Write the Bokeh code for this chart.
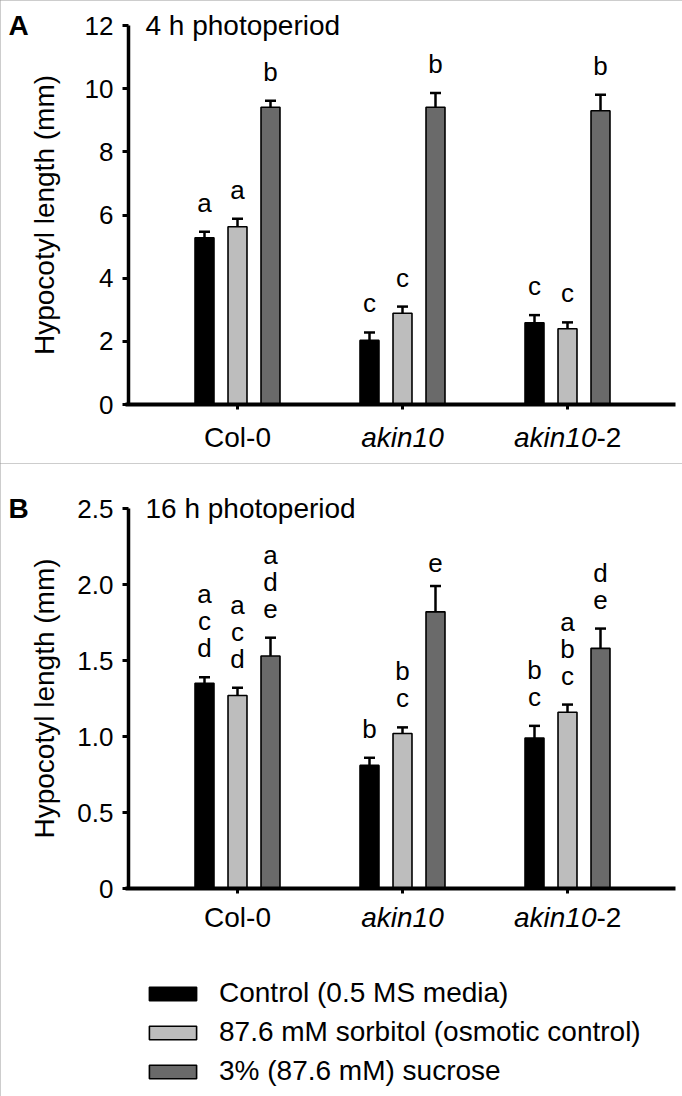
from bokeh.plotting import figure
from bokeh.models import Range1d, FixedTicker, ColumnDataSource, Whisker, TeeHead
from bokeh.layouts import column
from bokeh.embed import file_html
from bokeh.resources import INLINE
from bokeh.core.properties import value

# ---------------- data ----------------
genotypes = ["Col-0", "akin10", "akin10-2"]
treatments = ["Control (0.5 MS media)",
              "87.6 mM sorbitol (osmotic control)",
              "3% (87.6 mM) sucrose"]
colors = ["#000000", "#bdbdbd", "#6a6a6a"]

# Panel A: 4 h photoperiod
a_ctrl = [5.28, 2.03, 2.59]
a_ctrl_err = [0.19, 0.25, 0.24]
a_sorb = [5.63, 2.89, 2.40]
a_sorb_err = [0.25, 0.21, 0.20]
a_suc = [9.41, 9.41, 9.30]
a_suc_err = [0.21, 0.45, 0.51]
a_letters_ctrl = ["a", "c", "c"]
a_letters_sorb = ["a", "c", "c"]
a_letters_suc = ["b", "b", "b"]
a_yticks = [0, 2, 4, 6, 8, 10, 12]

# Panel B: 16 h photoperiod
b_ctrl = [1.35, 0.81, 0.99]
b_ctrl_err = [0.04, 0.05, 0.08]
b_sorb = [1.27, 1.02, 1.16]
b_sorb_err = [0.05, 0.04, 0.05]
b_suc = [1.53, 1.82, 1.58]
b_suc_err = [0.12, 0.17, 0.13]
b_letters_ctrl = ["a\nc\nd", "b", "b\nc"]
b_letters_sorb = ["a\nc\nd", "b\nc", "a\nb\nc"]
b_letters_suc = ["a\nd\ne", "e", "d\ne"]
b_yticks = [0, 0.5, 1.0, 1.5, 2.0, 2.5]
b_ytick_labels = {0: "0", 0.5: "0.5", 1: "1.0", 1.5: "1.5", 2: "2.0", 2.5: "2.5"}

group_pos = [0, 1, 2]
treat_offset = [-0.2, 0.0, 0.2]

# ---------------- layout (pixels) ----------------
W = 682
PX_PER_GROUP = 165.0
FIRST_GROUP_PX = 237.0
AXIS_PX = 128.0
AXIS_END_PX = 675.0
X_START = -FIRST_GROUP_PX / PX_PER_GROUP
X_END = (W - FIRST_GROUP_PX) / PX_PER_GROUP
Y_AXIS_X = (AXIS_PX - FIRST_GROUP_PX) / PX_PER_GROUP
X_AXIS_LEFT = (AXIS_PX - 3 - FIRST_GROUP_PX) / PX_PER_GROUP
X_AXIS_RIGHT = (AXIS_END_PX - FIRST_GROUP_PX) / PX_PER_GROUP

FONT = "Liberation Sans"
FS = "28px"
TICK_FS = "26px"
BORDER = {"outline": "1px solid #9a9a9a", "outline-offset": "-1px"}


def make_panel(height, zero_px, top_px, y_max, yticks, ytick_over, title, letter,
               series, letters, axis_standoff, legend=False, cat_gap=33, line_h=0.9):
    ppu = (zero_px - top_px) / y_max
    y_start = -(height - zero_px) / ppu
    y_end = y_max + top_px / ppu
    p = figure(width=W, height=height, x_range=Range1d(X_START, X_END),
               y_range=Range1d(y_start, y_end),
               output_backend="svg", toolbar_location=None,
               min_border_left=0, min_border_right=0, min_border_top=0, min_border_bottom=0,
               outline_line_color=None, styles=BORDER)
    p.title.visible = False
    p.xgrid.visible = False
    p.ygrid.visible = False

    for k, (vals, errs) in enumerate(series):
        xs = [g + treat_offset[k] for g in group_pos]
        src = ColumnDataSource(dict(x=xs, top=vals, upper=[v + e for v, e in zip(vals, errs)],
                                    lab=letters[k]))
        kw = {}
        if legend:
            kw["legend_label"] = treatments[k]
        p.vbar(x="x", top="top", width=0.115, bottom=0, source=src,
               fill_color=colors[k], line_color="black", line_width=1.6, **kw)
        w = Whisker(base="x", lower="top", upper="upper", source=src, dimension="height",
                    line_color="black", line_width=2.5, lower_head=None,
                    upper_head=TeeHead(size=11, line_width=2.5, line_color="black"))
        p.add_layout(w)
        p.text(x="x", y="upper", text="lab", source=src, text_font=value(FONT),
               text_font_size="26px", text_align="center", text_baseline="bottom",
               y_offset=-14, text_line_height=line_h, text_color="black")

    # y axis (library axis drawn at a fixed location)
    ya = p.yaxis[0]
    ya.fixed_location = Y_AXIS_X
    ya.bounds = (0, y_max)
    ya.ticker = FixedTicker(ticks=yticks)
    ya.minor_tick_line_color = None
    ya.axis_line_width = 3.5
    ya.major_tick_line_width = 3
    ya.major_tick_out = 6
    ya.major_tick_in = 0
    ya.major_label_standoff = 9
    ya.major_label_text_font = FONT
    ya.major_label_text_font_size = TICK_FS
    ya.major_label_text_color = "black"
    if ytick_over:
        ya.major_label_overrides = ytick_over
    ya.axis_label = "Hypocotyl length (mm)"
    ya.axis_label_text_font = FONT
    ya.axis_label_text_font_size = FS
    ya.axis_label_text_font_style = "normal"
    ya.axis_label_text_color = "black"
    ya.axis_label_standoff = axis_standoff

    # x axis at y = 0
    xa = p.xaxis[0]
    xa.fixed_location = 0
    xa.bounds = (X_AXIS_LEFT, X_AXIS_RIGHT)
    xa.ticker = FixedTicker(ticks=group_pos)
    xa.minor_tick_line_color = None
    xa.axis_line_width = 4
    xa.major_tick_line_width = 3
    xa.major_tick_out = 5
    xa.major_tick_in = 0
    xa.major_label_text_color = None

    # category labels (Col-0 upright, akin10 italic, akin10-2 mixed)
    base = dict(y_offset=cat_gap, text_baseline="middle", text_font=value(FONT),
                text_font_size=FS, text_color="black")
    p.text(x=[group_pos[0]], y=[0], text=[genotypes[0]], text_align="center", **base)
    p.text(x=[group_pos[1]], y=[0], text=[genotypes[1]], text_align="center",
           text_font_style="italic", **base)
    p.text(x=[group_pos[2]], y=[0], text=[genotypes[2][:-2]], text_align="right",
           x_offset=29, text_font_style="italic", **base)
    p.text(x=[group_pos[2]], y=[0], text=[genotypes[2][-2:]], text_align="left",
           x_offset=29, **base)

    # title & panel letter
    p.text(x=[Y_AXIS_X], y=[y_max], text=[title], x_offset=17, text_align="left",
           text_baseline="middle", text_font=value(FONT), text_font_size=FS, text_color="black")
    p.text(x=[X_START], y=[y_max], text=[letter], x_offset=8, text_align="left",
           text_baseline="middle", text_font=value(FONT), text_font_size="28px",
           text_font_style="bold", text_color="black")

    if legend:
        lg = p.legend[0]
        lg.location = (143, 9)
        lg.border_line_color = None
        lg.background_fill_alpha = 0
        lg.padding = 0
        lg.margin = 0
        lg.spacing = 7
        lg.glyph_width = 59
        lg.glyph_height = 17
        lg.label_standoff = 17
        lg.label_text_font = FONT
        lg.label_text_font_size = FS
        lg.label_text_color = "black"
    return p


pA = make_panel(463, 404, 25, 12, a_yticks, None, "4 h photoperiod", "A",
                [(a_ctrl, a_ctrl_err), (a_sorb, a_sorb_err), (a_suc, a_suc_err)],
                [a_letters_ctrl, a_letters_sorb, a_letters_suc], 22, cat_gap=33)
pB = make_panel(633, 425, 45, 2.5, b_yticks, b_ytick_labels, "16 h photoperiod", "B",
                [(b_ctrl, b_ctrl_err), (b_sorb, b_sorb_err), (b_suc, b_suc_err)],
                [b_letters_ctrl, b_letters_sorb, b_letters_suc], 14, legend=True, cat_gap=29)

layout = column(pA, pB, spacing=0)
open("out.html", "w").write(file_html(layout, INLINE))
